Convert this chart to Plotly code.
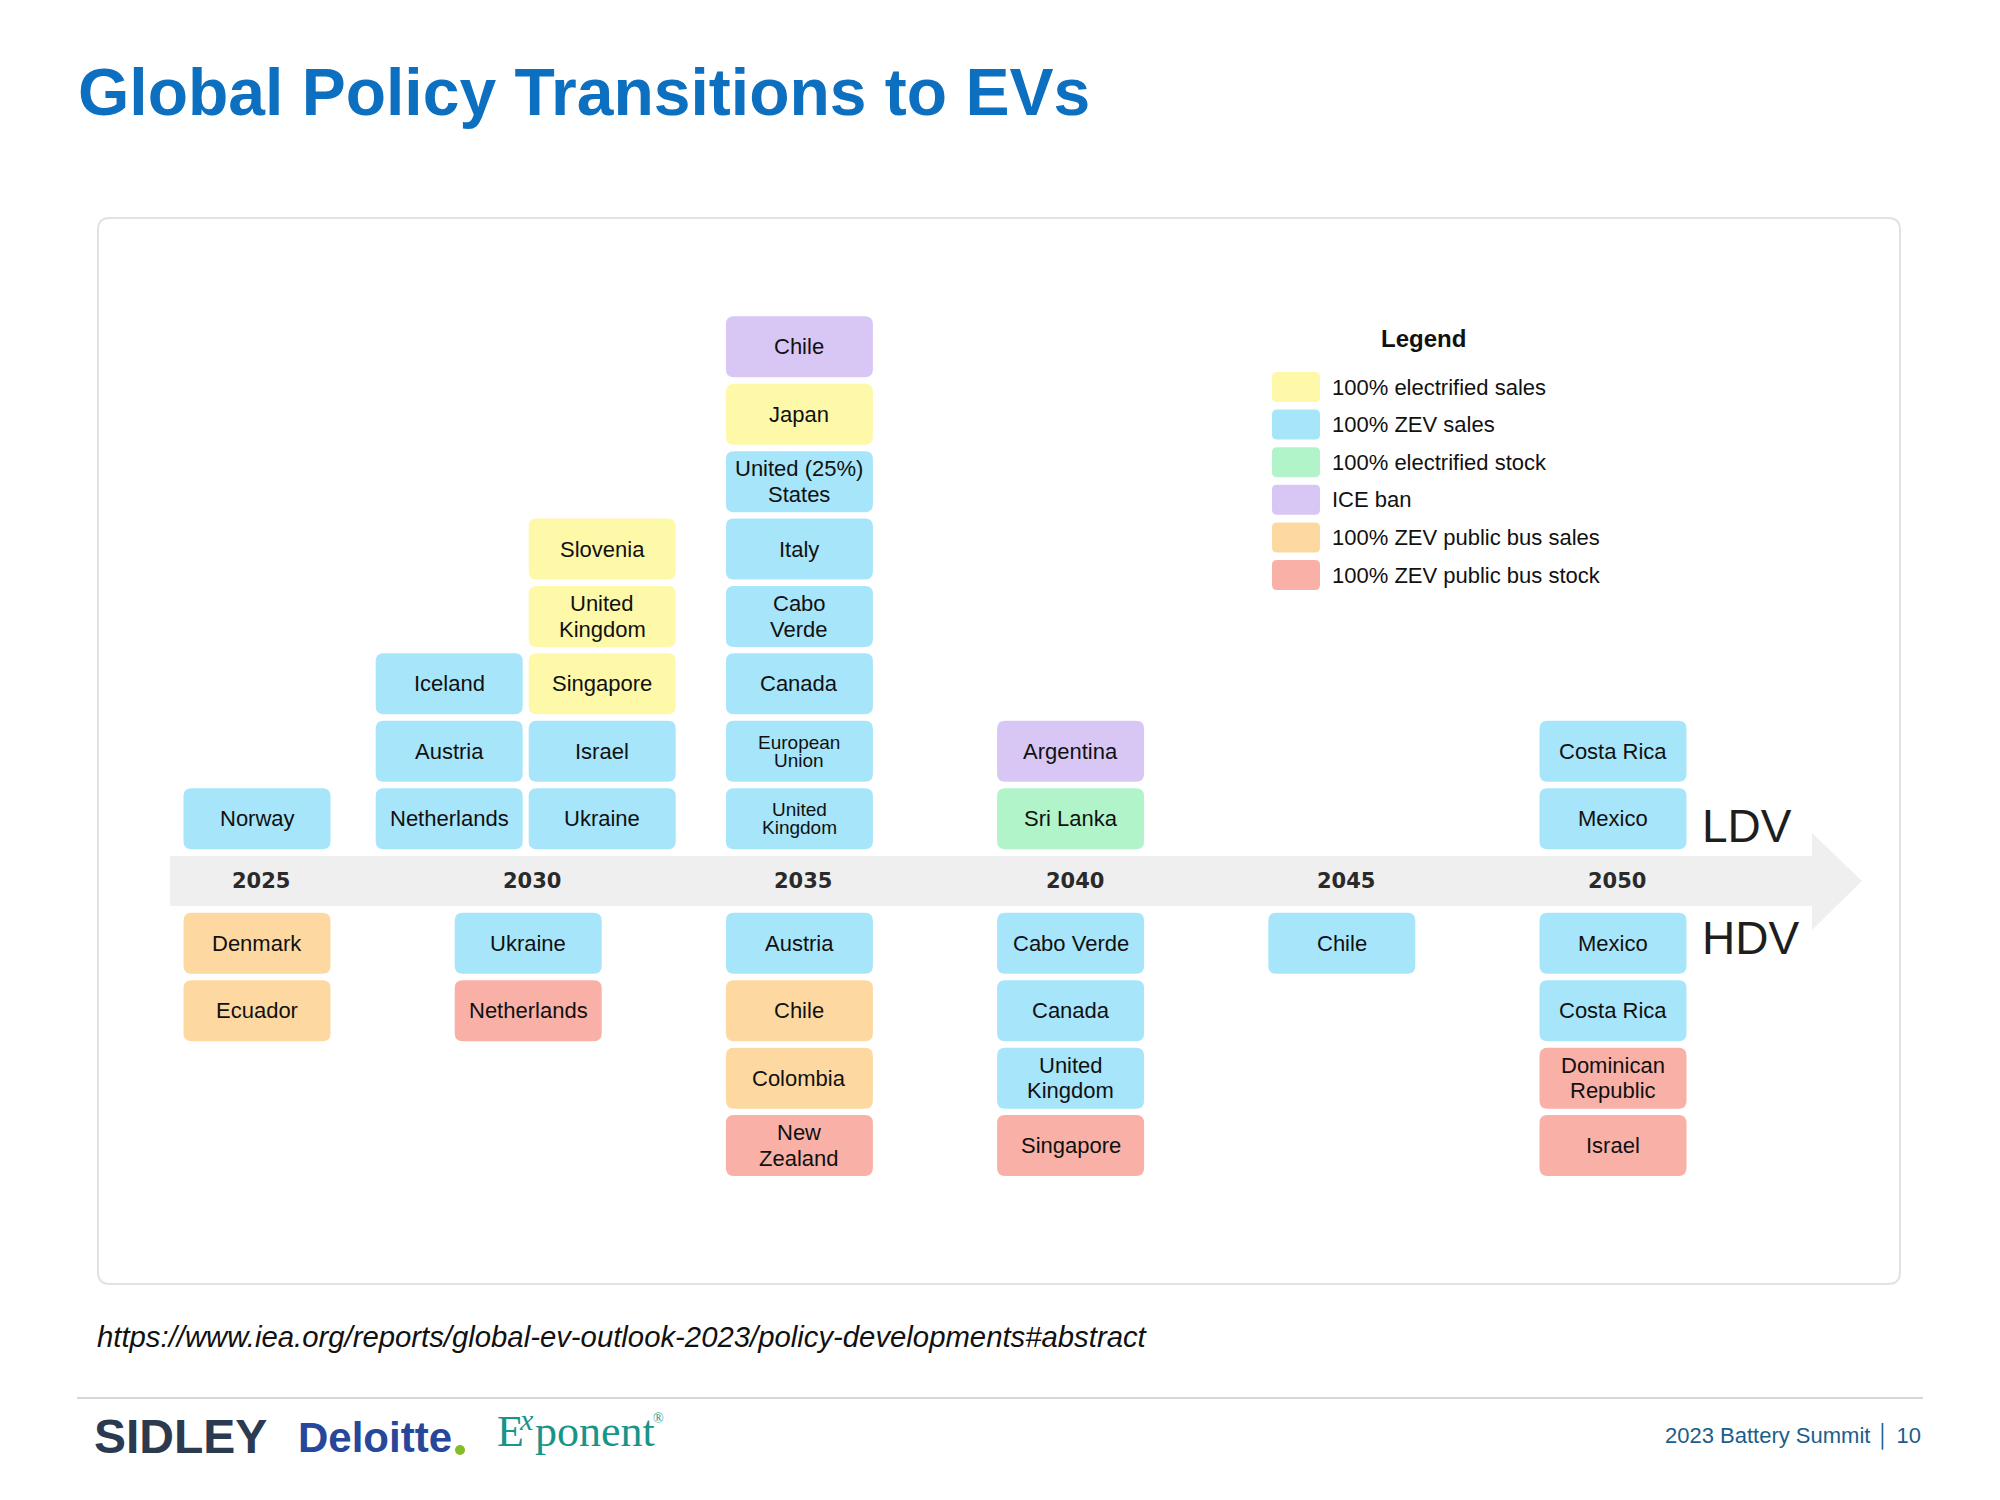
import plotly.graph_objects as go

# ---------------- data ----------------
POLICY_KEYS = ["elec_sales", "zev_sales", "elec_stock", "ice_ban", "bus_sales", "bus_stock"]
POLICY_NAMES = ["100% electrified sales", "100% ZEV sales", "100% electrified stock",
                "ICE ban", "100% ZEV public bus sales", "100% ZEV public bus stock"]
POLICY_COLORS = ["#FEF8A9", "#A6E5FA", "#B2F4CA", "#D8C7F5", "#FDD9A1", "#F9B0A6"]

YEARS = [2025, 2030, 2035, 2040, 2045, 2050]

# Light-duty vehicles (listed from the timeline outward)
LDV_COUNTRY = ["Norway",
               "Netherlands", "Austria", "Iceland",
               "Ukraine", "Israel", "Singapore", "United\nKingdom", "Slovenia",
               "United\nKingdom", "European\nUnion", "Canada", "Cabo\nVerde", "Italy",
               "United (25%)\nStates", "Japan", "Chile",
               "Sri Lanka", "Argentina",
               "Mexico", "Costa Rica"]
LDV_YEAR = [2025,
            2030, 2030, 2030,
            2030, 2030, 2030, 2030, 2030,
            2035, 2035, 2035, 2035, 2035, 2035, 2035, 2035,
            2040, 2040,
            2050, 2050]
LDV_LANE = [0,
            -1, -1, -1,
            1, 1, 1, 1, 1,
            0, 0, 0, 0, 0, 0, 0, 0,
            0, 0,
            0, 0]
LDV_POLICY = ["zev_sales",
              "zev_sales", "zev_sales", "zev_sales",
              "zev_sales", "zev_sales", "elec_sales", "elec_sales", "elec_sales",
              "zev_sales", "zev_sales", "zev_sales", "zev_sales", "zev_sales",
              "zev_sales", "elec_sales", "ice_ban",
              "elec_stock", "ice_ban",
              "zev_sales", "zev_sales"]

# Heavy-duty vehicles (listed from the timeline outward)
HDV_COUNTRY = ["Denmark", "Ecuador",
               "Ukraine", "Netherlands",
               "Austria", "Chile", "Colombia", "New\nZealand",
               "Cabo Verde", "Canada", "United\nKingdom", "Singapore",
               "Chile",
               "Mexico", "Costa Rica", "Dominican\nRepublic", "Israel"]
HDV_YEAR = [2025, 2025,
            2030, 2030,
            2035, 2035, 2035, 2035,
            2040, 2040, 2040, 2040,
            2045,
            2050, 2050, 2050, 2050]
HDV_LANE = [0] * len(HDV_COUNTRY)
HDV_POLICY = ["bus_sales", "bus_sales",
              "zev_sales", "bus_stock",
              "zev_sales", "bus_sales", "bus_sales", "bus_stock",
              "zev_sales", "zev_sales", "zev_sales", "bus_stock",
              "zev_sales",
              "zev_sales", "zev_sales", "bus_stock", "bus_stock"]

TITLE = "Global Policy Transitions to EVs"
SOURCE = "https://www.iea.org/reports/global-ev-outlook-2023/policy-developments#abstract"

# ---------------- styling / layout constants ----------------
W, H = 2000, 1500
PX_PER_YEAR = 54.24
PX_PER_ROW = 67.4
AXIS_PX_Y = 881           # pixel row of the timeline centre
X0_PX_YEAR = 2025 - 257 / PX_PER_YEAR
X_RANGE = [X0_PX_YEAR, X0_PX_YEAR + W / PX_PER_YEAR]
Y_RANGE = [-(H - AXIS_PX_Y) / PX_PER_ROW, AXIS_PX_Y / PX_PER_ROW]

BOX_W = 147 / PX_PER_YEAR
BOX_H = 61 / PX_PER_ROW
LANE_STEP = 76.5 / PX_PER_YEAR
LANE_SHIFT = -2.5 / PX_PER_YEAR
ROW0 = 0.925
RX, RY = 8 / PX_PER_YEAR, 8 / PX_PER_ROW

FONT = "Liberation Sans, Arial, sans-serif"
SERIF = "Liberation Serif, DejaVu Serif, serif"
SMALL_LABELS = {("LDV", 2035, "European\nUnion"), ("LDV", 2035, "United\nKingdom")}

color_of = dict(zip(POLICY_KEYS, POLICY_COLORS))
name_of = dict(zip(POLICY_KEYS, POLICY_NAMES))


def rpath(x0, x1, y0, y1, rx, ry):
    return (f"M{x0+rx},{y0} L{x1-rx},{y0} Q{x1},{y0} {x1},{y0+ry} "
            f"L{x1},{y1-ry} Q{x1},{y1} {x1-rx},{y1} L{x0+rx},{y1} "
            f"Q{x0},{y1} {x0},{y1-ry} L{x0},{y0+ry} Q{x0},{y0} {x0+rx},{y0} Z")


def PX(px):
    return px / W


def PY(py):
    return 1 - py / H


fig = go.Figure()
shapes = []
annotations = []


def ptext(px, py, text, size, color, family=FONT, xanchor="left"):
    annotations.append(dict(x=PX(px), y=PY(py), xref="paper", yref="paper", text=text,
                            xanchor=xanchor, yanchor="middle", showarrow=False,
                            font=dict(family=family, size=size, color=color)))


# panel
shapes.append(dict(type="path", xref="paper", yref="paper",
                   path=rpath(PX(98), PX(1900), PY(1284), PY(218), 12 / W, 12 / H),
                   line=dict(color="#E2E2E2", width=2), fillcolor="white", layer="below"))

# timeline arrow
arrow = (f"M{PX(170)},{PY(856)} L{PX(1812)},{PY(856)} L{PX(1812)},{PY(833)} "
         f"L{PX(1862)},{PY(881)} L{PX(1812)},{PY(930)} L{PX(1812)},{PY(906)} "
         f"L{PX(170)},{PY(906)} Z")
shapes.append(dict(type="path", xref="paper", yref="paper", path=arrow,
                   line=dict(width=0), fillcolor="#EFEFEF", layer="below"))

# year labels
for yr in YEARS:
    annotations.append(dict(x=yr, y=0, xref="x", yref="y", text=f"<b>{yr}</b>",
                            showarrow=False, xshift=4, xanchor="center", yanchor="middle",
                            font=dict(family="DejaVu Sans, sans-serif", size=21, color="#2A2A2A")))

hover_x, hover_y, hover_t = [], [], []


def draw_group(sector, countries, years, lanes, policies, sign):
    counts = {}
    for c, yr, ln, pol in zip(countries, years, lanes, policies):
        key = (yr, ln)
        r = counts.get(key, 0)
        counts[key] = r + 1
        xc = yr + ln * LANE_STEP + (LANE_SHIFT if ln else 0)
        yc = sign * (ROW0 + r)
        shapes.append(dict(type="path", xref="x", yref="y",
                           path=rpath(xc - BOX_W / 2, xc + BOX_W / 2,
                                      yc - BOX_H / 2, yc + BOX_H / 2, RX, RY),
                           line=dict(width=0), fillcolor=color_of[pol], layer="below"))
        small = (sector, yr, c) in SMALL_LABELS
        size = 19 if small else 22
        spacing = 18 if small else 25.5
        lines = c.split("\n")
        n = len(lines)
        for i, line in enumerate(lines):
            annotations.append(dict(x=xc, y=yc, xref="x", yref="y", text=line,
                                    showarrow=False, xanchor="center", yanchor="middle",
                                    yshift=((n - 1) / 2 - i) * spacing,
                                    font=dict(family=FONT, size=size, color="#111111")))
        hover_x.append(xc)
        hover_y.append(yc)
        hover_t.append(f"{sector} {yr}: {c.replace(chr(10), ' ')} – {name_of[pol]}")


draw_group("LDV", LDV_COUNTRY, LDV_YEAR, LDV_LANE, LDV_POLICY, 1)
draw_group("HDV", HDV_COUNTRY, HDV_YEAR, HDV_LANE, HDV_POLICY, -1)

fig.add_trace(go.Scatter(x=hover_x, y=hover_y, mode="markers", text=hover_t,
                         hoverinfo="text", marker=dict(size=30, opacity=0),
                         showlegend=False))

# LDV / HDV labels
ptext(1700, 826, "LDV", 46, "#1E1E1E")
ptext(1700, 938, "HDV", 46, "#1E1E1E")

# legend
ptext(1423, 338, "<b>Legend</b>", 24, "#111111", xanchor="center")
for i, (nm, col) in enumerate(zip(POLICY_NAMES, POLICY_COLORS)):
    cy = 387 + i * 37.6
    shapes.append(dict(type="path", xref="paper", yref="paper",
                       path=rpath(PX(1272), PX(1320), PY(cy + 15), PY(cy - 15), 5 / W, 5 / H),
                       line=dict(width=0), fillcolor=col))
    ptext(1330, cy, nm, 22, "#111111")

# title
ptext(76, 92, f"<b>{TITLE}</b>", 66, "#0D6FBF")

# source
ptext(95, 1336, f"<i>{SOURCE}</i>", 29.3, "#111111")

# footer
shapes.append(dict(type="line", xref="paper", yref="paper", x0=PX(77), x1=PX(1923),
                   y0=PY(1398), y1=PY(1398), line=dict(color="#D3D8DC", width=2)))
ptext(92, 1436, "<b>SIDLEY</b>", 48, "#2B3A4F")
ptext(296, 1437, "<b>Deloitte</b>", 42, "#26479A")
shapes.append(dict(type="circle", xref="paper", yref="paper",
                   x0=PX(455), x1=PX(465), y0=PY(1455), y1=PY(1445),
                   line=dict(width=0), fillcolor="#86BC25"))
ptext(495, 1431, "E", 44, "#17958A", family=SERIF)
ptext(517, 1419, "<i>x</i>", 30, "#17958A", family=SERIF)
ptext(533, 1431, "ponent", 44, "#17958A", family=SERIF)
ptext(651, 1418, "®", 14, "#17958A", family=SERIF)
ptext(1923, 1436, "2023 Battery Summit │ 10", 22, "#1B5E8A", xanchor="right")

fig.update_layout(
    width=W, height=H,
    margin=dict(l=0, r=0, t=0, b=0, pad=0),
    paper_bgcolor="white", plot_bgcolor="rgba(0,0,0,0)",
    xaxis=dict(range=X_RANGE, visible=False, fixedrange=True),
    yaxis=dict(range=Y_RANGE, visible=False, fixedrange=True),
    showlegend=False,
    shapes=shapes,
    annotations=annotations,
)

fig.write_html("out.html", config={"displayModeBar": False},
               post_script="document.body.style.margin='0';document.body.style.overflow='hidden';")
